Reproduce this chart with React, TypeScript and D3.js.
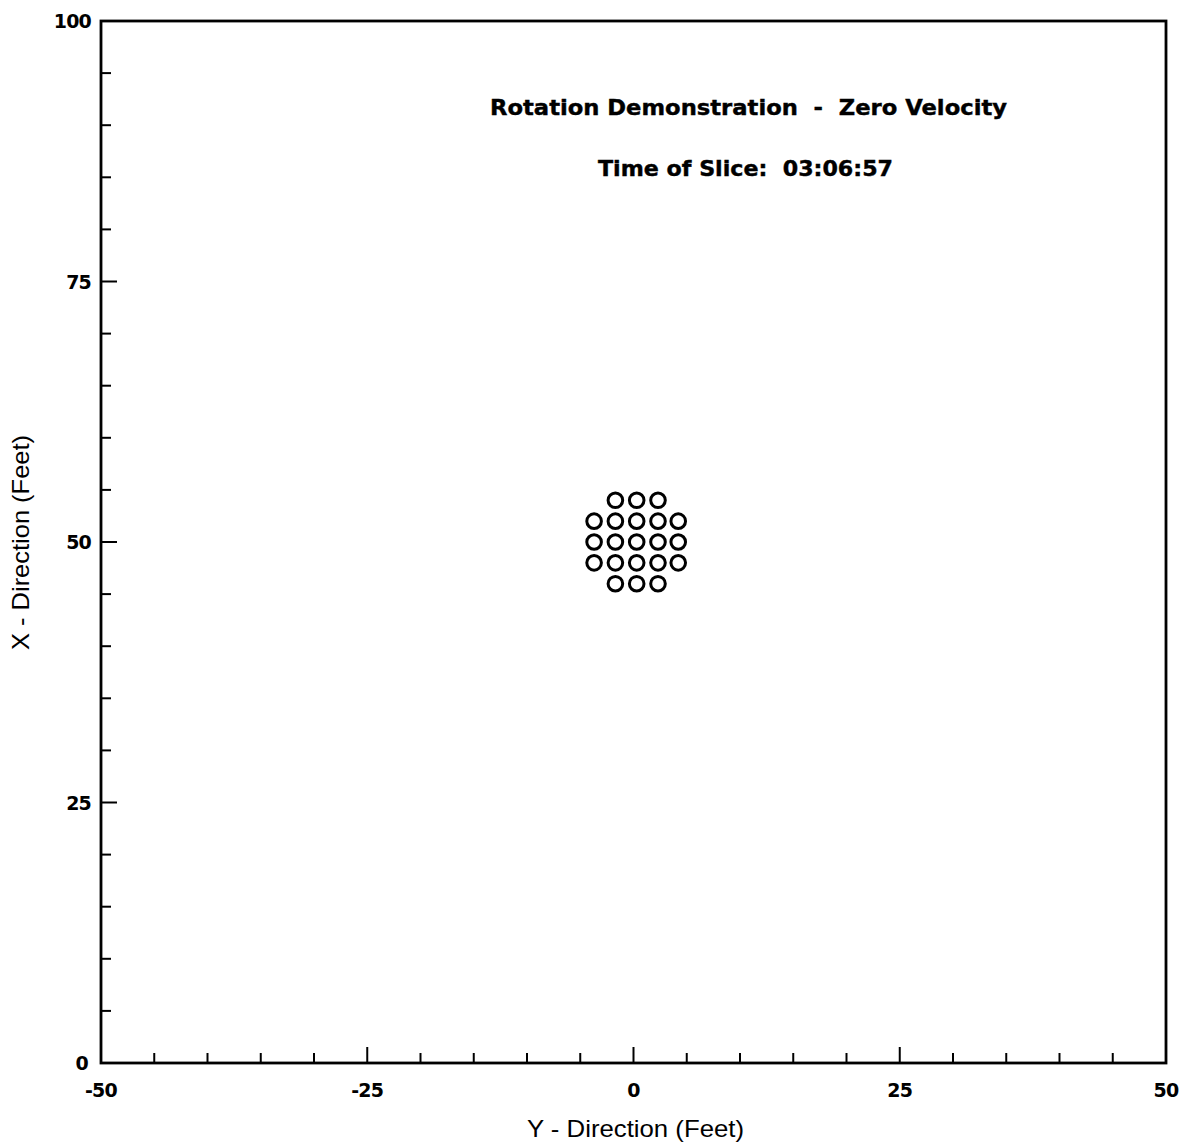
import React from "react";
import * as d3 from "d3";

const xDomain: [number, number] = [-50, 50];
const yDomain: [number, number] = [0, 100];
const xMajorTicks = [-50, -25, 0, 25, 50];
const yMajorTicks = [0, 25, 50, 75, 100];
const xMinorStep = 5;
const yMinorStep = 5;

// Point positions (Y-direction, X-direction) in feet
const pointY = [
  -1.7, 0.3, 2.3,
  -3.7, -1.7, 0.3, 2.3, 4.2,
  -3.7, -1.7, 0.3, 2.3, 4.2,
  -3.7, -1.7, 0.3, 2.3, 4.2,
  -1.7, 0.3, 2.3,
];
const pointX = [
  54, 54, 54,
  52, 52, 52, 52, 52,
  50, 50, 50, 50, 50,
  48, 48, 48, 48, 48,
  46, 46, 46,
];

const title1 = "Rotation Demonstration  -  Zero Velocity";
const title2 = "Time of Slice:  03:06:57";
const xLabel = "Y - Direction (Feet)";
const yLabel = "X - Direction (Feet)";

const W = 1183;
const H = 1146;
const L = 101, R = 1166, T = 21, B = 1063;

export default function App() {
  const x = d3.scaleLinear().domain(xDomain).range([L, R]);
  const y = d3.scaleLinear().domain(yDomain).range([B, T]);
  const xMinor = d3.range(xDomain[0], xDomain[1] + 0.001, xMinorStep).filter(v => !xMajorTicks.includes(v));
  const yMinor = d3.range(yDomain[0], yDomain[1] + 0.001, yMinorStep).filter(v => !yMajorTicks.includes(v));
  const bold = "'DejaVu Sans', Verdana, sans-serif";
  const reg = "'Liberation Sans', Arial, Helvetica, sans-serif";
  return (
    <svg width={W} height={H} style={{ position: "absolute", left: 0, top: 0, background: "#fff" }}>
      <rect x={0} y={0} width={W} height={H} fill="#fff" />
      <rect x={L} y={T} width={R - L} height={B - T} fill="none" stroke="#000" strokeWidth={2.8} />
      {xMajorTicks.map(v => (
        <g key={"xm" + v}>
          <line x1={x(v)} x2={x(v)} y1={B} y2={B - 16} stroke="#000" strokeWidth={2} />
          <text x={x(v)} y={B + 34} textAnchor="middle" fontSize={19} fontWeight="bold" fontFamily={bold} letterSpacing={-0.8}>{v}</text>
        </g>
      ))}
      {xMinor.map(v => (
        <line key={"xn" + v} x1={x(v)} x2={x(v)} y1={B} y2={B - 10} stroke="#000" strokeWidth={2} />
      ))}
      {yMajorTicks.map(v => (
        <g key={"ym" + v}>
          <line x1={L} x2={L + 16} y1={y(v)} y2={y(v)} stroke="#000" strokeWidth={2} />
          <text x={v === 0 ? 88 : 91} y={y(v) + 7} textAnchor="end" fontSize={19} fontWeight="bold" fontFamily={bold} letterSpacing={-0.8}>{v}</text>
        </g>
      ))}
      {yMinor.map(v => (
        <line key={"yn" + v} x1={L} x2={L + 10} y1={y(v)} y2={y(v)} stroke="#000" strokeWidth={2} />
      ))}
      {pointY.map((v, i) => (
        <circle key={"p" + i} cx={x(v)} cy={y(pointX[i])} r={7.3} fill="none" stroke="#000" strokeWidth={3} />
      ))}
      <text x={490} y={115} fontSize={21} fontWeight="bold" fontFamily={bold} xmlSpace="preserve" textLength={517} lengthAdjust="spacingAndGlyphs" stroke="#000" strokeWidth={0.4}>{title1}</text>
      <text x={598} y={176} fontSize={21} fontWeight="bold" fontFamily={bold} xmlSpace="preserve" textLength={295} lengthAdjust="spacingAndGlyphs" stroke="#000" strokeWidth={0.4}>{title2}</text>
      <text x={527} y={1137} fontSize={24} fontFamily={reg} textLength={217} lengthAdjust="spacingAndGlyphs">{xLabel}</text>
      <text transform={`translate(29,650) rotate(-90)`} fontSize={24} fontFamily={reg} textLength={215} lengthAdjust="spacingAndGlyphs">{yLabel}</text>
    </svg>
  );
}
